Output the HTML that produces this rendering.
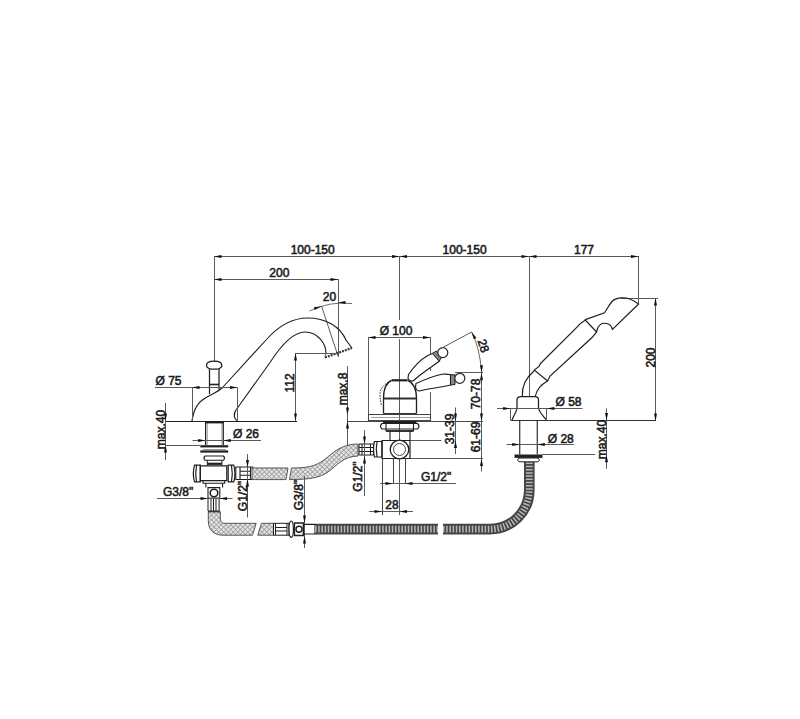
<!DOCTYPE html>
<html><head><meta charset="utf-8"><style>
html,body{margin:0;padding:0;background:#fff;width:800px;height:719px;overflow:hidden}
svg{display:block}
text{font-family:"Liberation Sans",sans-serif;fill:#1a1a1a;stroke:#1a1a1a;stroke-width:0.55}
</style></head><body>
<svg width="800" height="719" viewBox="0 0 800 719">
<rect width="800" height="719" fill="#fff"/>
<line x1="214" y1="256.5" x2="638.5" y2="256.5" stroke="#5a5a5a" stroke-width="1.0"/>
<polygon points="214.0,256.5 221.5,255.0 221.5,258.0" fill="#111"/>
<polygon points="399.5,256.5 392.0,258.0 392.0,255.0" fill="#111"/>
<polygon points="399.5,256.5 407.0,255.0 407.0,258.0" fill="#111"/>
<polygon points="529.0,256.5 521.5,258.0 521.5,255.0" fill="#111"/>
<polygon points="529.0,256.5 536.5,255.0 536.5,258.0" fill="#111"/>
<polygon points="638.5,256.5 631.0,258.0 631.0,255.0" fill="#111"/>
<line x1="214.5" y1="256" x2="214.5" y2="362" stroke="#5a5a5a" stroke-width="1.0"/>
<line x1="399.5" y1="256" x2="399.5" y2="320" stroke="#5a5a5a" stroke-width="1.0"/>
<line x1="399.5" y1="339" x2="399.5" y2="515" stroke="#5a5a5a" stroke-width="1.0"/>
<line x1="529.5" y1="256" x2="529.5" y2="396" stroke="#5a5a5a" stroke-width="1.0"/>
<line x1="638.5" y1="256" x2="638.5" y2="303" stroke="#5a5a5a" stroke-width="1.0"/>
<text x="312.7" y="253.5" text-anchor="middle" font-size="12">100-150</text>
<text x="464.6" y="253.5" text-anchor="middle" font-size="12">100-150</text>
<text x="584" y="253.5" text-anchor="middle" font-size="12">177</text>
<line x1="214" y1="279.5" x2="338" y2="279.5" stroke="#5a5a5a" stroke-width="1.0"/>
<polygon points="214.0,279.5 221.5,278.0 221.5,281.0" fill="#111"/>
<polygon points="338.0,279.5 330.5,281.0 330.5,278.0" fill="#111"/>
<line x1="338.5" y1="279" x2="338.5" y2="357" stroke="#5a5a5a" stroke-width="1.0"/>
<text x="279.3" y="277" text-anchor="middle" font-size="12">200</text>
<path d="M309.5,311 Q330,301 352,303.5" stroke="#444" stroke-width="0.8" fill="none" />
<line x1="321.5" y1="306" x2="338" y2="356" stroke="#5a5a5a" stroke-width="1.0"/>
<polygon points="321.5,306.3 314.8,310.0 313.9,307.2" fill="#111"/>
<polygon points="338.0,302.5 345.5,301.0 345.5,304.0" fill="#111"/>
<text x="329.5" y="300.7" text-anchor="middle" font-size="12">20</text>
<path d="M223,387 L266,340 C280,324 295,318 308,318 C325,318 340,326 346,340 L352,348" stroke="#1e1e1e" stroke-width="1.1" fill="none" />
<path d="M236,410 L270,362.5 C280,347 292,332 305,332 C318,332 326,344 326,353" stroke="#1e1e1e" stroke-width="1.1" fill="none" />
<path d="M325,357.5 L352,348" stroke="#333" stroke-width="2.2" fill="none" stroke-dasharray="2,1"/>
<line x1="326" y1="353" x2="325" y2="357.5" stroke="#5a5a5a" stroke-width="1"/>
<path d="M206.5,365.5 C206.5,362.3 210,361.2 214.2,361.2 C218.4,361.2 221.8,362.3 221.8,365.5 C221.8,367.3 219.5,368.6 217.5,369 L211,369 C209,368.6 206.5,367.3 206.5,365.5 Z" stroke="#1e1e1e" stroke-width="1.25" fill="none" />
<path d="M209.5,369 L209.5,394 M219,369 L219,389.5" stroke="#1e1e1e" stroke-width="1.25" fill="none" />
<line x1="209.5" y1="384.5" x2="219" y2="384.5" stroke="#222" stroke-width="1.6"/>
<path d="M192,421 C194,408 198,402 207,397 C212,394 218,392 223,387" stroke="#1e1e1e" stroke-width="1.25" fill="none" />
<path d="M236,410 C233,414 234,419 237.5,421" stroke="#1e1e1e" stroke-width="1.25" fill="none" />
<line x1="166" y1="421.5" x2="297" y2="421.5" stroke="#222" stroke-width="1.1"/>
<line x1="295" y1="353.5" x2="338" y2="353.5" stroke="#5a5a5a" stroke-width="1.0"/>
<line x1="295.5" y1="353" x2="295.5" y2="421" stroke="#5a5a5a" stroke-width="1.0"/>
<polygon points="295.5,353.0 297.0,360.5 294.0,360.5" fill="#111"/>
<polygon points="295.5,421.0 294.0,413.5 297.0,413.5" fill="#111"/>
<text x="294" y="383" text-anchor="middle" font-size="12" transform="rotate(-90 294 383)">112</text>
<line x1="347.5" y1="366" x2="347.5" y2="450" stroke="#5a5a5a" stroke-width="1.0"/>
<polygon points="347.5,415.0 346.0,407.5 349.0,407.5" fill="#111"/>
<polygon points="347.5,421.0 349.0,428.5 346.0,428.5" fill="#111"/>
<text x="347" y="389" text-anchor="middle" font-size="12" transform="rotate(-90 347 389)">max.8</text>
<line x1="155" y1="387.5" x2="237.5" y2="387.5" stroke="#5a5a5a" stroke-width="1.0"/>
<line x1="192.5" y1="387.5" x2="192.5" y2="421" stroke="#5a5a5a" stroke-width="1.0"/>
<line x1="237.5" y1="387.5" x2="237.5" y2="421" stroke="#5a5a5a" stroke-width="1.0"/>
<polygon points="192.0,387.5 199.5,386.0 199.5,389.0" fill="#111"/>
<polygon points="237.5,387.5 230.0,389.0 230.0,386.0" fill="#111"/>
<text x="155.5" y="385.3" text-anchor="start" font-size="12">Ø 75</text>
<path d="M205.6,421 L205.6,445 M223.3,421 L223.3,445" stroke="#1e1e1e" stroke-width="1.2" fill="none" />
<path d="M207.3,423 L207.3,445 M221.9,423 L221.9,445" stroke="#777" stroke-width="0.7" fill="none" />
<line x1="205.6" y1="422.3" x2="223.3" y2="422.3" stroke="#1e1e1e" stroke-width="2.2"/>
<line x1="192.5" y1="440.5" x2="261" y2="440.5" stroke="#5a5a5a" stroke-width="1.0"/>
<polygon points="205.6,440.5 198.1,442.0 198.1,439.0" fill="#111"/>
<polygon points="223.3,440.5 230.8,439.0 230.8,442.0" fill="#111"/>
<text x="233" y="437.5" text-anchor="start" font-size="12">Ø 26</text>
<line x1="200.3" y1="446.3" x2="228.2" y2="446.3" stroke="#1e1e1e" stroke-width="2.2"/>
<line x1="200.3" y1="451.5" x2="228.2" y2="451.5" stroke="#1e1e1e" stroke-width="2.2"/>
<line x1="203" y1="449.5" x2="226" y2="449.5" stroke="#999" stroke-width="1"/>
<line x1="165.5" y1="403" x2="165.5" y2="460" stroke="#5a5a5a" stroke-width="1.0"/>
<polygon points="165.5,421.0 164.0,413.5 167.0,413.5" fill="#111"/>
<polygon points="165.5,445.0 167.0,452.5 164.0,452.5" fill="#111"/>
<line x1="165.5" y1="445.5" x2="200" y2="445.5" stroke="#5a5a5a" stroke-width="1.0"/>
<text x="165" y="429.5" text-anchor="middle" font-size="12" transform="rotate(-90 165 429.5)">max.40</text>
<path d="M205,456 L223.5,456 Q225.6,458.1 223.5,460.3 L205,460.3 Q202.9,458.1 205,456 Z" stroke="#1e1e1e" stroke-width="1.1" fill="none" />
<path d="M207.3,460.3 L207.3,465.5 M221.9,460.3 L221.9,465.5" stroke="#1e1e1e" stroke-width="1" fill="none" />
<line x1="207.3" y1="463.8" x2="221.9" y2="463.8" stroke="#1e1e1e" stroke-width="2.2"/>
<path d="M200.3,465.8 L226.8,465.8 L226.8,480.5 L200.3,480.5 Z" stroke="#1e1e1e" stroke-width="1.25" fill="none" />
<path d="M203,480.5 L203,483.2 L224.7,483.2 L224.7,480.5 M205.9,483.2 L205.9,487.6 M222.6,483.2 L222.6,487.6" stroke="#1e1e1e" stroke-width="1.1" fill="none" />
<path d="M194.5,465.1 L200.3,465.1 L200.3,481.9 L194.5,481.9 Q192.2,473.5 194.5,465.1 Z M196.5,465.6 Q195,473.5 196.5,481.4" stroke="#1e1e1e" stroke-width="1.2" fill="none" />
<path d="M228.2,465.1 L233.8,465.1 Q236.1,473.5 233.8,481.9 L228.2,481.9 Z M231.5,465.6 Q233,473.5 231.5,481.4" stroke="#1e1e1e" stroke-width="1.2" fill="none" />
<path d="M235.8,467 L252.7,467 L252.7,479.5 L235.8,479.5 Z M240,467 L240,479.5 M250.5,467 L250.5,479.5 M240,471.3 L250.5,471.3 M240,475.3 L250.5,475.3" stroke="#1e1e1e" stroke-width="1.1" fill="none" />
<path d="M208,487.6 L219.8,487.6 L219.8,498.3 L208,498.3 Z" stroke="#1e1e1e" stroke-width="1.1" fill="none" />
<circle cx="214" cy="493" r="3.8" fill="none" stroke="#1e1e1e" stroke-width="1.6"/>
<path d="M208,498.3 L219.1,498.3 L219.1,511 L208,511 Z M211,498.3 L211,511 M213.5,498.3 L213.5,511 M216,498.3 L216,511" stroke="#1e1e1e" stroke-width="1" fill="none" />
<line x1="208" y1="512" x2="220.3" y2="512" stroke="#1e1e1e" stroke-width="2"/>
<line x1="157" y1="498.5" x2="232.5" y2="498.5" stroke="#5a5a5a" stroke-width="1.0"/>
<polygon points="208.0,498.5 200.5,500.0 200.5,497.0" fill="#111"/>
<polygon points="219.5,498.5 227.0,497.0 227.0,500.0" fill="#111"/>
<text x="163" y="495.8" text-anchor="start" font-size="12">G3/8"</text>
<line x1="247.5" y1="454" x2="247.5" y2="517.5" stroke="#5a5a5a" stroke-width="1.0"/>
<polygon points="247.5,467.5 246.0,460.0 249.0,460.0" fill="#111"/>
<polygon points="247.5,479.0 249.0,486.5 246.0,486.5" fill="#111"/>
<text x="246.5" y="496" text-anchor="middle" font-size="12" transform="rotate(-90 246.5 496)">G1/2"</text>
<defs><pattern id="hat" width="3.4" height="3.4" patternUnits="userSpaceOnUse" patternTransform="rotate(45)"><rect width="3.4" height="3.4" fill="#e4e4e4"/><rect width="0.85" height="3.4" fill="#a0a0a0"/><rect width="3.4" height="0.85" fill="#a0a0a0"/></pattern></defs>
<path d="M252,468 L288,468 L286,479.6 L252,479.6 Z" stroke="#555" stroke-width="1" fill="url(#hat)" />
<path d="M291.5,468 C307,468 315,466.5 324,460 C333,453 341,444 358,444 L358,456 C344,456 336,466 328,472 C320,477.5 310,479.6 289.5,479.6 Z" stroke="#555" stroke-width="1" fill="url(#hat)" />
<path d="M208.3,512 L208.3,521 C208.3,530 214,535.2 223,535.2 L252.5,535.2 L256.2,523.3 L224,523.3 C221.5,523.3 220.3,521 220.3,518 L220.3,512 Z" stroke="#555" stroke-width="1" fill="url(#hat)" />
<path d="M257.7,535.2 L273.5,535.2 L273.5,523.3 L261.5,523.3 Z" stroke="#555" stroke-width="1" fill="url(#hat)" />
<line x1="304.5" y1="476" x2="304.5" y2="548" stroke="#5a5a5a" stroke-width="1.0"/>
<polygon points="304.5,523.0 303.0,515.5 306.0,515.5" fill="#111"/>
<polygon points="304.5,536.0 306.0,543.5 303.0,543.5" fill="#111"/>
<text x="303" y="495" text-anchor="middle" font-size="12" transform="rotate(-90 303 495)">G3/8"</text>
<path d="M273.5,523.3 L289,523.3 L289,535.2 L273.5,535.2 Z M275.5,523.3 L275.5,535.2 M287,523.3 L287,535.2 M275.5,527.5 L287,527.5 M275.5,531 L287,531" stroke="#1e1e1e" stroke-width="1" fill="none" />
<ellipse cx="291.2" cy="529.2" rx="2.2" ry="8.2" fill="#fff" stroke="#1e1e1e" stroke-width="1.2"/>
<path d="M294.5,523 L303.4,523 L303.4,535.5 L294.5,535.5 Z" stroke="#1e1e1e" stroke-width="1.3" fill="none" />
<circle cx="299" cy="529.2" r="3" fill="none" stroke="#1e1e1e" stroke-width="1.4"/>
<path d="M303.4,524.4 L315,524.4 L315,534 L303.4,534 Z" stroke="#1e1e1e" stroke-width="1.1" fill="none" />
<path d="M315,529.1 L438,529.1" stroke="#444" stroke-width="10.6" fill="none" />
<path d="M315,529.1 L438,529.1" stroke="#b8b8b8" stroke-width="6.8" fill="none" stroke-dasharray="1.5,1.7"/>
<path d="M443,529.1 L490,529.1 A39.3,39.3 0 0 0 529.3,490.1 L529.3,462" stroke="#444" stroke-width="10.6" fill="none" />
<path d="M443,529.1 L490,529.1 A39.3,39.3 0 0 0 529.3,490.1 L529.3,462" stroke="#b8b8b8" stroke-width="6.8" fill="none" stroke-dasharray="1.5,1.7"/>
<line x1="368" y1="337.5" x2="430.5" y2="337.5" stroke="#5a5a5a" stroke-width="1.0"/>
<polygon points="368.0,337.5 375.5,336.0 375.5,339.0" fill="#111"/>
<polygon points="430.5,337.5 423.0,339.0 423.0,336.0" fill="#111"/>
<text x="396" y="335" text-anchor="middle" font-size="12">Ø 100</text>
<line x1="368.5" y1="337" x2="368.5" y2="415" stroke="#5a5a5a" stroke-width="1.0"/>
<line x1="430.5" y1="337" x2="430.5" y2="371" stroke="#5a5a5a" stroke-width="1.0"/>
<line x1="430.5" y1="392" x2="430.5" y2="415" stroke="#5a5a5a" stroke-width="1.0"/>
<path d="M368.5,414.5 L430.5,414.5 L430.5,420.5 L368.5,420.5 Z" stroke="#444" stroke-width="1.1" fill="none" />
<line x1="371" y1="417.5" x2="430" y2="417.5" stroke="#888" stroke-width="0.8"/>
<line x1="347" y1="421.5" x2="483" y2="421.5" stroke="#333" stroke-width="0.9"/>
<path d="M383.5,413.5 L383.5,398.5 C383.5,389 386.5,382.5 391.7,380.3 M407.5,380.3 C413,382.5 416.5,389 416.5,398.5 L416.5,413.5" stroke="#1e1e1e" stroke-width="1.3" fill="none" />
<line x1="391.7" y1="380.3" x2="407.5" y2="380.3" stroke="#222" stroke-width="2.2"/>
<line x1="383.5" y1="398.5" x2="416.5" y2="398.5" stroke="#333" stroke-width="2"/>
<line x1="383.5" y1="413.5" x2="416.5" y2="413.5" stroke="#333" stroke-width="1.2"/>
<path d="M390.8,380.8 C384,384 380,389 380,394 C380,399 380.8,403 381.7,405.8" stroke="#1e1e1e" stroke-width="1" fill="none" stroke-dasharray="1.5,1.2"/>
<path d="M408.5,374.5 C413,368 420,360 427,356 C429.5,354.6 431.5,353.8 433,353.3 L439.5,361 C437,363 432,366.5 428,369.3 C422,373.5 417,377.5 413,381 C411,381.5 409,380 408,378.5 Z" stroke="#1e1e1e" stroke-width="1.15" fill="#fff" />
<path d="M432.3,353.4 L436.5,351 L441.4,357.6 L439.3,361 Z" stroke="#1e1e1e" stroke-width="1" fill="#888" />
<circle cx="442.8" cy="352.6" r="5" fill="#fff" stroke="#222" stroke-width="1.15"/>
<path d="M416,383.5 C424,380 434,376 442,374.3 C446,373.8 448.5,374.2 450.5,374.8 L450.5,385 C448,385.7 445,386.4 442,386.8 C434,388 425,389.5 419.5,391 C417.5,391 416,389.5 415.5,387 Z" stroke="#1e1e1e" stroke-width="1.15" fill="#fff" />
<path d="M450.5,374.8 L455,374.8 L455,384.5 L450.5,385 Z" stroke="#1e1e1e" stroke-width="1" fill="#888" />
<circle cx="459.8" cy="378.3" r="5" fill="#fff" stroke="#222" stroke-width="1.15"/>
<line x1="439" y1="349.5" x2="471.6" y2="332" stroke="#5a5a5a" stroke-width="1.0"/>
<path d="M471.6,332 Q479,345 481.9,372.75" stroke="#555" stroke-width="0.9" fill="none" />
<polygon points="471.6,332.0 476.4,337.9 473.8,339.3" fill="#111"/>
<polygon points="481.5,372.8 480.0,365.2 483.0,365.2" fill="#111"/>
<text x="479.5" y="347" text-anchor="middle" font-size="12" transform="rotate(72 479.5 347)">28</text>
<line x1="455" y1="372.5" x2="483" y2="372.5" stroke="#5a5a5a" stroke-width="1.0"/>
<line x1="481.5" y1="372.75" x2="481.5" y2="471.5" stroke="#5a5a5a" stroke-width="1.0"/>
<polygon points="481.5,372.8 483.0,380.2 480.0,380.2" fill="#111"/>
<polygon points="481.5,421.0 480.0,413.5 483.0,413.5" fill="#111"/>
<polygon points="481.5,458.4 483.0,465.9 480.0,465.9" fill="#111"/>
<text x="480.3" y="394" text-anchor="middle" font-size="12" transform="rotate(-90 480.3 394)">70-78</text>
<text x="480.3" y="437" text-anchor="middle" font-size="12" transform="rotate(-90 480.3 437)">61-69</text>
<line x1="455.5" y1="407.5" x2="455.5" y2="454" stroke="#5a5a5a" stroke-width="1.0"/>
<polygon points="455.5,421.0 454.0,413.5 457.0,413.5" fill="#111"/>
<polygon points="455.5,440.5 457.0,448.0 454.0,448.0" fill="#111"/>
<line x1="409" y1="440.5" x2="441.4" y2="440.5" stroke="#5a5a5a" stroke-width="1.0"/>
<text x="453.5" y="429" text-anchor="middle" font-size="12" transform="rotate(-90 453.5 429)">31-39</text>
<line x1="409" y1="458.5" x2="483" y2="458.5" stroke="#5a5a5a" stroke-width="1.0"/>
<line x1="383" y1="422" x2="416.5" y2="422" stroke="#1e1e1e" stroke-width="1.8"/>
<path d="M382,423.5 L417.5,423.5 Q420.5,426.25 417.5,429 L382,429 Q379,426.25 382,423.5 Z" stroke="#1e1e1e" stroke-width="1.2" fill="none" />
<path d="M386,422 L386,431 M413.5,422 L413.5,431" stroke="#1e1e1e" stroke-width="1.1" fill="none" />
<line x1="386" y1="431" x2="413.5" y2="431" stroke="#1e1e1e" stroke-width="1.8"/>
<path d="M390,431 L390,440.5 M410,431 L410,440.5" stroke="#1e1e1e" stroke-width="1.1" fill="none" />
<path d="M382,440.5 L410,440.5 L410,458.5 L382,458.5 Z" stroke="#1e1e1e" stroke-width="1.2" fill="none" />
<circle cx="399.5" cy="449.5" r="9.3" fill="#fff" stroke="#1e1e1e" stroke-width="1.3"/>
<circle cx="399.5" cy="449.5" r="6" fill="none" stroke="#333" stroke-width="0.9"/>
<path d="M374.5,441.5 L382,441.5 L382,457 L374.5,457 Q372.5,449.25 374.5,441.5 Z M377,442 Q375.5,449.25 377,456.5" stroke="#1e1e1e" stroke-width="1.2" fill="none" />
<path d="M359,444 L373.5,444 L373.5,455 L359,455 Z M359,447.5 L373.5,447.5 M359,451.5 L373.5,451.5 M362,444 L362,455 M370.5,444 L370.5,455" stroke="#1e1e1e" stroke-width="1" fill="none" />
<line x1="382.5" y1="458.5" x2="382.5" y2="515" stroke="#444" stroke-width="1.0"/>
<line x1="393.5" y1="458.5" x2="393.5" y2="484" stroke="#444" stroke-width="1.0"/>
<line x1="405.5" y1="458.5" x2="405.5" y2="484" stroke="#444" stroke-width="1.0"/>
<line x1="380" y1="483.5" x2="456" y2="483.5" stroke="#5a5a5a" stroke-width="1.0"/>
<polygon points="393.0,483.5 385.5,485.0 385.5,482.0" fill="#111"/>
<polygon points="405.0,483.5 412.5,482.0 412.5,485.0" fill="#111"/>
<text x="421" y="481" text-anchor="start" font-size="12">G1/2"</text>
<line x1="369" y1="511.5" x2="413" y2="511.5" stroke="#5a5a5a" stroke-width="1.0"/>
<polygon points="382.0,511.5 374.5,513.0 374.5,510.0" fill="#111"/>
<polygon points="399.5,511.5 407.0,510.0 407.0,513.0" fill="#111"/>
<text x="392" y="509" text-anchor="middle" font-size="12">28</text>
<line x1="364.5" y1="430" x2="364.5" y2="496" stroke="#5a5a5a" stroke-width="1.0"/>
<polygon points="364.5,444.0 363.0,436.5 366.0,436.5" fill="#111"/>
<polygon points="364.5,456.0 366.0,463.5 363.0,463.5" fill="#111"/>
<text x="362" y="476.5" text-anchor="middle" font-size="12" transform="rotate(-90 362 476.5)">G1/2"</text>
<line x1="621" y1="298.5" x2="658" y2="298.5" stroke="#5a5a5a" stroke-width="1.0"/>
<line x1="655.5" y1="298" x2="655.5" y2="421" stroke="#5a5a5a" stroke-width="1.0"/>
<polygon points="655.5,298.0 657.0,305.5 654.0,305.5" fill="#111"/>
<polygon points="655.5,421.0 654.0,413.5 657.0,413.5" fill="#111"/>
<text x="655" y="357.5" text-anchor="middle" font-size="12" transform="rotate(-90 655 357.5)">200</text>
<path d="M522.3,396 C522,388 524.5,379 533.5,371.5 L534.5,369.8 L539,366.5 C539.5,365 540,364 541.5,362.5 L576.5,327.6 C579,324.5 582,322 585.5,320 L585.3,319.6 L604.5,312.75 C607,309 609,305 612,301.5 C616,297.5 625,297 629,298.75 C633,300 636,302 638.6,304 L612.4,329.4 C611.5,326 609,323.5 605,323.25 C601,323 598.5,326 597.5,328.5 L596.6,332 L592.3,337.3 L550.3,375.8 C549,378 548,380 547.6,381 C542,384 537,388 535.4,396" stroke="#1e1e1e" stroke-width="1.2" fill="none" />
<line x1="585.3" y1="320" x2="596.6" y2="332" stroke="#1e1e1e" stroke-width="1.1"/>
<line x1="534.5" y1="370.3" x2="547.6" y2="381" stroke="#1e1e1e" stroke-width="1.1"/>
<path d="M511.8,420.6 C513,416 516.5,413 517,408 L517,400 Q517,396.6 521,396.6 L535,396.6 Q538.5,396.6 538.5,400 L538.5,408 C539.5,413 543.5,416 546.9,420.6" stroke="#1e1e1e" stroke-width="1.25" fill="none" />
<line x1="510.5" y1="408" x2="510.5" y2="420.6" stroke="#5a5a5a" stroke-width="1.0"/>
<line x1="546.5" y1="408" x2="546.5" y2="420.6" stroke="#5a5a5a" stroke-width="1.0"/>
<line x1="497" y1="408.5" x2="582.5" y2="408.5" stroke="#5a5a5a" stroke-width="1.0"/>
<polygon points="510.6,408.5 503.1,410.0 503.1,407.0" fill="#111"/>
<polygon points="546.9,408.5 554.4,407.0 554.4,410.0" fill="#111"/>
<text x="555.5" y="405.8" text-anchor="start" font-size="12">Ø 58</text>
<line x1="511" y1="420.5" x2="656" y2="420.5" stroke="#333" stroke-width="1"/>
<path d="M519.75,420.6 L519.75,454.5 M537.25,420.6 L537.25,454.5" stroke="#1e1e1e" stroke-width="1.1" fill="none" />
<line x1="506.6" y1="444.5" x2="574" y2="444.5" stroke="#5a5a5a" stroke-width="1.0"/>
<polygon points="519.8,444.5 512.2,446.0 512.2,443.0" fill="#111"/>
<polygon points="537.2,444.5 544.8,443.0 544.8,446.0" fill="#111"/>
<text x="547.75" y="442.5" text-anchor="start" font-size="12">Ø 28</text>
<line x1="514.5" y1="456.2" x2="542.5" y2="456.2" stroke="#222" stroke-width="3.4"/>
<path d="M519,458 L538,458 Q541,459.9 538,461.8 L519,461.8 Q516,459.9 519,458 Z" stroke="#1e1e1e" stroke-width="1" fill="none" />
<line x1="542" y1="454.5" x2="595" y2="454.5" stroke="#5a5a5a" stroke-width="1.0"/>
<line x1="606.5" y1="408.4" x2="606.5" y2="468.75" stroke="#5a5a5a" stroke-width="1.0"/>
<polygon points="606.5,420.6 605.0,413.1 608.0,413.1" fill="#111"/>
<polygon points="606.5,454.8 608.0,462.2 605.0,462.2" fill="#111"/>
<text x="605.5" y="439.5" text-anchor="middle" font-size="12" transform="rotate(-90 605.5 439.5)">max.40</text>
</svg></body></html>
